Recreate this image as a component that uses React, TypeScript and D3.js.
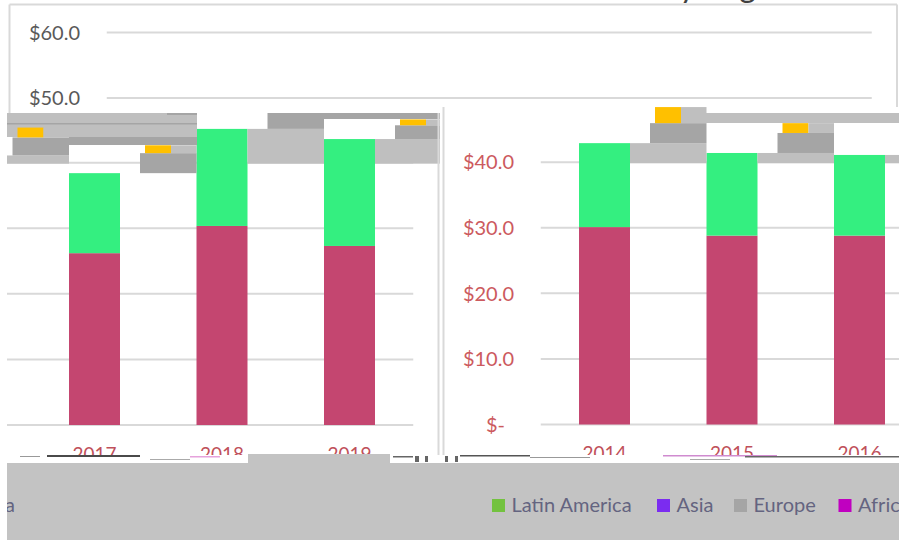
import React from 'react';
import * as d3 from 'd3';

// ---- data ----
const years = ['2014', '2015', '2016', '2017', '2018', '2019'];
const northAmerica = [30.1, 28.8, 28.8, 26.2, 30.35, 27.3];
const latinAmerica = [12.8, 12.6, 12.3, 12.2, 14.8, 16.3];
const europe = [3.05, 3.05, 2.75, 3.05, 2.9, 2.1];
const middleEast = [2.45, 1.5, 1.5, 1.2, 1.4, 0.9];
const yTicks = [0, 10, 20, 30, 40, 50, 60];
const legendNames = ['North America', 'Latin America', 'Asia', 'Europe', 'Africa'];
const legendColors = ['#c44670', '#73c23f', '#7b2cf0', '#a5a5a5', '#c000c0'];

// ---- style / layout ----
const FONT = 'Lato, "DejaVu Sans", sans-serif';
const C = {
  na: '#c44670', la: '#34ef80', eu: '#a5a5a5', me: '#ffc000',
  band: '#bfbfbf', grid: '#d9d9d9', frame: '#d9d9d9', bottom: '#c3c3c3',
};
const W = 899, H = 540;
const x = d3.scaleBand<string>().domain(years).range([540.75, 1305.75]).paddingInner(0.6).paddingOuter(0.3);
const y = d3.scaleLinear().domain([0, 60]).range([424.5, 31]);
const bw = x.bandwidth();
const step = x.step();
const frame = { x0: 443.5, x1: 1331, y0: 3 };

const rows = years.map((yr, i) => ({ yr, na: northAmerica[i], la: latinAmerica[i], eu: europe[i], me: middleEast[i] }));
const stacked = d3.stack<any>().keys(['na', 'la', 'eu', 'me'])(rows);
const fmt = (t: number) => (t === 0 ? '$-' : '$' + t.toFixed(1));

function Base({ labelColor, xLabelColor }: { labelColor: string; xLabelColor: string }) {
  return (
    <g>
      <rect x={frame.x0} y={frame.y0} width={frame.x1 - frame.x0} height={700} fill="#fff" />
      {yTicks.map((t) => (
        <line key={'g' + t} x1={x.range()[0]} x2={x.range()[1]} y1={y(t)} y2={y(t)} stroke={C.grid} strokeWidth={2} />
      ))}
      {yTicks.map((t) => (
        <text key={'l' + t} x={t === 0 ? 505 : 514} y={y(t)} dy="0.36em" textAnchor="end" fontSize={20} fill={labelColor} fontFamily={FONT}>
          {fmt(t)}
        </text>
      ))}
      {stacked.slice(0, 2).map((s, si) =>
        s.map((d, i) => (
          <rect key={si + '-' + i} x={x(years[i])} y={y(d[1])} width={bw} height={y(d[0]) - y(d[1])} fill={si === 0 ? C.na : C.la} />
        ))
      )}
      {years.map((yr) => (
        <text key={'x' + yr} x={(x(yr) as number) + bw / 2} y={460} textAnchor="middle" fontSize={19} fill={xLabelColor} fontFamily={FONT}>
          {yr}
        </text>
      ))}
    </g>
  );
}

function Glitch() {
  const floor = y(40) + 1;
  return (
    <g>
      {years.map((yr, i) => {
        const x0 = x(yr) as number;
        const T = y(stacked[1][i][1]);
        const euTop = y(stacked[2][i][1]);
        const meTop = y(stacked[3][i][1]);
        const xs = x0 + bw + 20;
        const xe = x0 + step;
        return (
          <g key={yr}>
            {T < floor && <rect x={x0 + bw} y={T} width={step - bw} height={floor - T} fill={C.band} />}
            <rect x={xs} y={euTop} width={xe - xs} height={T - euTop} fill={C.eu} />
            <rect x={xs + 5} y={meTop} width={26} height={euTop - meTop} fill={C.me} />
            <rect x={xs + 31} y={meTop} width={xe - xs - 31} height={euTop - meTop} fill={C.band} />
          </g>
        );
      })}
    </g>
  );
}

function Border() {
  return (
    <g stroke={C.frame} strokeWidth={2} fill="none">
      <line x1={frame.x0} x2={frame.x0} y1={frame.y0} y2={700} />
      <line x1={frame.x0} x2={frame.x1} y1={frame.y0} y2={frame.y0} />
      <line x1={frame.x1} x2={frame.x1} y1={frame.y0} y2={700} />
    </g>
  );
}

// screen-space rendering artifacts of the source image
const leftBands = [
  { x: 7, y: 113, w: 190, h: 24, f: '#bfbfbf' },
  { x: 7, y: 123, w: 190, h: 1.5, f: '#a5a5a5' },
  { x: 167, y: 113, w: 30, h: 2, f: '#a5a5a5' },
  { x: 69, y: 137, w: 128, h: 8, f: '#a5a5a5' },
  { x: 268, y: 113, w: 172, h: 6, f: '#a5a5a5' },
];
const rightBands = [{ x: 682, y: 113, w: 217, h: 10, f: '#bfbfbf' }];
const noise = [
  { x: 47, y: 455, w: 93, h: 2, f: '#4a4a4a' },
  { x: 20, y: 456, w: 20, h: 1, f: '#999' },
  { x: 190, y: 456, w: 30, h: 1.5, f: '#e6a2dc' },
  { x: 150, y: 459, w: 40, h: 1, f: '#aaa' },
  { x: 393, y: 456, w: 20, h: 1.5, f: '#666' },
  { x: 415, y: 456, w: 4, h: 6, f: '#666' },
  { x: 425, y: 456, w: 3, h: 6, f: '#666' },
  { x: 445, y: 456, w: 3, h: 6, f: '#666' },
  { x: 455, y: 456, w: 3, h: 6, f: '#666' },
  { x: 460, y: 455, w: 70, h: 1.5, f: '#555' },
  { x: 530, y: 457, w: 60, h: 1, f: '#999' },
  { x: 663, y: 455, w: 114, h: 1.5, f: '#d08bd0' },
  { x: 745, y: 456, w: 154, h: 1.5, f: '#666' },
  { x: 690, y: 459, w: 40, h: 1, f: '#aaa' },
];
const legendMarkerX = [-140, 492, 657, 734, 838.5];

export default function App() {
  const topClip = 'M0,0H899V107H441V113H0Z';
  return (
    <svg width={W} height={H} style={{ position: 'absolute', left: 0, top: 0, background: '#fff' }} fontFamily={FONT}>
      <defs>
        <clipPath id="cTop"><path d={topClip} /></clipPath>
        <clipPath id="cRight"><rect x={441} y={107} width={458} height={348} /></clipPath>
        <clipPath id="cLeft"><rect x={7} y={113} width={433} height={342} /></clipPath>
        <clipPath id="cBottom"><rect x={7} y={440} width={892} height={100} /></clipPath>
      </defs>
      <rect width={W} height={H} fill="#fff" />

      {/* right half of chart */}
      <g clipPath="url(#cRight)">
        <Base labelColor="#cc5a5e" xLabelColor="#c0505a" />
        {rightBands.map((b, i) => <rect key={i} x={b.x} y={b.y} width={b.w} height={b.h} fill={b.f} />)}
        <Glitch />
        <Border />
      </g>

      {/* left half (shifted copy) */}
      <g clipPath="url(#cLeft)">
        <g transform="translate(-892.5,0.5)">
          <Base labelColor="#cc5a5e" xLabelColor="#c0505a" />
        </g>
        {leftBands.map((b, i) => <rect key={i} x={b.x} y={b.y} width={b.w} height={b.h} fill={b.f} />)}
        <g transform="translate(-892.5,0.5)">
          <Glitch />
          <Border />
        </g>
      </g>

      {/* top strip */}
      <g clipPath="url(#cTop)">
        <rect width={W} height={120} fill="#fff" />
        <g transform="translate(-434,1.5)">
          <Base labelColor="#595959" xLabelColor="#595959" />
          <Border />
        </g>
      </g>
      <text y={-3} fontSize={32} fill="#404040" fontFamily={FONT}>
        <tspan x={655} textAnchor="end">Revenue</tspan>
        <tspan x={662}>by Region</tspan>
      </text>

      {/* bottom strip with legend */}
      <g clipPath="url(#cBottom)">
        <rect x={7} y={455} width={892} height={8} fill="#fff" />
        <rect x={7} y={463} width={892} height={77} fill={C.bottom} />
        <rect x={248} y={454} width={142} height={9} fill={C.bottom} />
        {noise.map((b, i) => <rect key={i} x={b.x} y={b.y} width={b.w} height={b.h} fill={b.f} />)}
        {legendNames.map((n, i) => (
          <g key={n}>
            <rect x={legendMarkerX[i]} y={499} width={13} height={13} fill={legendColors[i]} />
            <text
              x={i === 0 ? 15 : legendMarkerX[i] + 19.5}
              y={512}
              textAnchor={i === 0 ? 'end' : 'start'}
              fontSize={20}
              fill="#646480"
              fontFamily={FONT}
            >
              {n}
            </text>
          </g>
        ))}
      </g>
    </svg>
  );
}
